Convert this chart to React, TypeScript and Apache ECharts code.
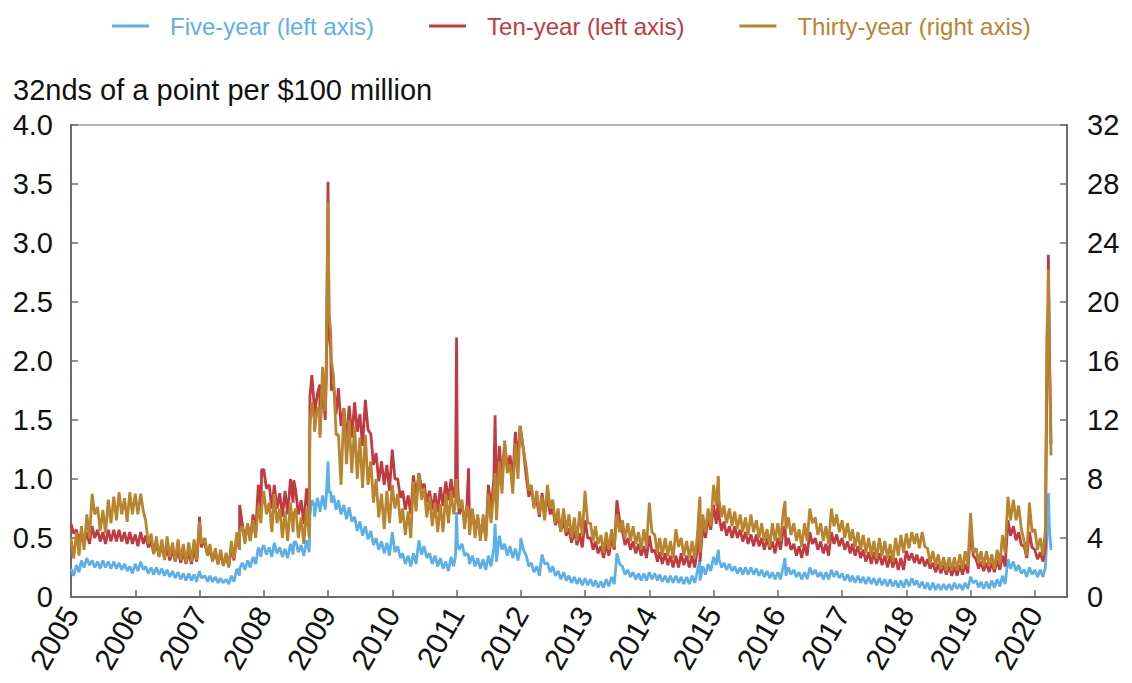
import React, { useEffect, useRef } from "react";
import * as echarts from "echarts";

// Readings per month, Jan 2005 – Mar 2020: upper edge of each series' band
// (taken at the 1st of the month) and lower edge (taken at the 16th).
const startYear = 2005;

// Five-year, left axis
const fiveHi = [
  0.24, 0.27, 0.31, 0.33, 0.31, 0.30, 0.31, 0.30, 0.30, 0.29, 0.28, 0.26,
  0.28, 0.30, 0.26, 0.25, 0.25, 0.24, 0.23, 0.22, 0.21, 0.20, 0.20, 0.19,
  0.22, 0.18, 0.18, 0.17, 0.16, 0.15, 0.18, 0.24, 0.29, 0.31, 0.34, 0.42,
  0.44, 0.42, 0.46, 0.42, 0.41, 0.45, 0.47, 0.44, 0.48, 0.82, 0.84, 0.86,
  1.15, 0.86, 0.82, 0.78, 0.76, 0.68, 0.64, 0.60, 0.56, 0.50, 0.47, 0.46,
  0.55, 0.43, 0.37, 0.35, 0.37, 0.48, 0.43, 0.37, 0.35, 0.33, 0.30, 0.34,
  0.72, 0.45, 0.37, 0.35, 0.33, 0.32, 0.35, 0.42, 0.52, 0.45, 0.43, 0.41,
  0.50, 0.35, 0.29, 0.26, 0.36, 0.29, 0.26, 0.22, 0.21, 0.18, 0.17, 0.16,
  0.16, 0.15, 0.14, 0.13, 0.15, 0.17, 0.37, 0.26, 0.23, 0.21, 0.20, 0.20,
  0.21, 0.20, 0.19, 0.18, 0.18, 0.18, 0.17, 0.17, 0.18, 0.22, 0.26, 0.28,
  0.34, 0.32, 0.29, 0.28, 0.26, 0.25, 0.25, 0.25, 0.24, 0.23, 0.22, 0.21,
  0.21, 0.26, 0.25, 0.23, 0.21, 0.21, 0.25, 0.23, 0.21, 0.21, 0.23, 0.22,
  0.20, 0.19, 0.18, 0.18, 0.17, 0.17, 0.16, 0.16, 0.15, 0.15, 0.14, 0.14,
  0.15, 0.16, 0.14, 0.13, 0.12, 0.12, 0.11, 0.11, 0.11, 0.12, 0.11, 0.12,
  0.17, 0.14, 0.13, 0.13, 0.14, 0.15, 0.18, 0.32, 0.30, 0.27, 0.23, 0.25,
  0.23, 0.23, 0.25,
];
const fiveLo = [
  0.18, 0.21, 0.25, 0.27, 0.25, 0.24, 0.25, 0.24, 0.24, 0.23, 0.22, 0.20,
  0.22, 0.23, 0.20, 0.19, 0.19, 0.18, 0.17, 0.16, 0.15, 0.14, 0.14, 0.13,
  0.16, 0.13, 0.13, 0.12, 0.12, 0.11, 0.13, 0.18, 0.23, 0.25, 0.28, 0.34,
  0.36, 0.34, 0.37, 0.34, 0.33, 0.36, 0.38, 0.35, 0.38, 0.68, 0.72, 0.74,
  0.90, 0.74, 0.70, 0.66, 0.64, 0.56, 0.52, 0.49, 0.44, 0.40, 0.37, 0.35,
  0.38, 0.33, 0.28, 0.26, 0.28, 0.36, 0.33, 0.28, 0.26, 0.24, 0.22, 0.26,
  0.40, 0.35, 0.28, 0.26, 0.24, 0.23, 0.26, 0.30, 0.40, 0.35, 0.33, 0.31,
  0.40, 0.26, 0.21, 0.18, 0.28, 0.21, 0.18, 0.15, 0.14, 0.12, 0.11, 0.10,
  0.10, 0.09, 0.08, 0.08, 0.09, 0.11, 0.28, 0.19, 0.17, 0.15, 0.14, 0.14,
  0.15, 0.14, 0.13, 0.12, 0.12, 0.12, 0.11, 0.11, 0.12, 0.14, 0.19, 0.22,
  0.27, 0.25, 0.23, 0.22, 0.20, 0.19, 0.19, 0.19, 0.18, 0.17, 0.16, 0.15,
  0.15, 0.18, 0.19, 0.17, 0.15, 0.15, 0.19, 0.17, 0.15, 0.15, 0.17, 0.16,
  0.14, 0.13, 0.12, 0.12, 0.11, 0.11, 0.10, 0.10, 0.09, 0.09, 0.08, 0.08,
  0.09, 0.10, 0.08, 0.07, 0.06, 0.06, 0.06, 0.06, 0.06, 0.07, 0.06, 0.07,
  0.12, 0.08, 0.07, 0.07, 0.08, 0.09, 0.11, 0.24, 0.22, 0.20, 0.17, 0.19,
  0.17, 0.17, 0.70,
];

// Ten-year, left axis
const tenHi = [
  0.62, 0.57, 0.55, 0.55, 0.60, 0.57, 0.55, 0.57, 0.57, 0.57, 0.55, 0.55,
  0.53, 0.55, 0.52, 0.47, 0.45, 0.43, 0.41, 0.40, 0.39, 0.38, 0.38, 0.40,
  0.68, 0.45, 0.41, 0.38, 0.37, 0.35, 0.41, 0.52, 0.62, 0.62, 0.70, 0.95,
  1.08, 0.95, 0.95, 0.88, 0.90, 1.00, 0.90, 0.82, 0.92, 1.88, 1.72, 1.82,
  3.52, 1.80, 1.77, 1.60, 1.62, 1.65, 1.55, 1.67, 1.38, 1.22, 1.15, 1.12,
  1.25, 1.00, 0.90, 0.86, 1.03, 1.05, 0.96, 0.90, 0.88, 0.93, 0.98, 1.00,
  2.20, 0.78, 0.78, 0.73, 0.68, 0.66, 0.95, 1.00, 1.28, 1.30, 1.20, 1.40,
  1.45, 1.02, 0.93, 0.82, 0.88, 0.85, 0.75, 0.68, 0.64, 0.58, 0.56, 0.54,
  0.65, 0.50, 0.47, 0.43, 0.45, 0.50, 0.82, 0.56, 0.50, 0.47, 0.45, 0.43,
  0.52, 0.40, 0.38, 0.37, 0.35, 0.35, 0.37, 0.35, 0.35, 0.40, 0.60, 0.67,
  0.78, 0.68, 0.64, 0.60, 0.60, 0.57, 0.55, 0.53, 0.53, 0.50, 0.50, 0.47,
  0.50, 0.57, 0.50, 0.45, 0.43, 0.45, 0.55, 0.50, 0.47, 0.45, 0.55, 0.53,
  0.50, 0.47, 0.45, 0.43, 0.40, 0.38, 0.38, 0.37, 0.35, 0.35, 0.33, 0.33,
  0.39, 0.37, 0.36, 0.34, 0.32, 0.29, 0.28, 0.27, 0.26, 0.26, 0.27, 0.28,
  0.58, 0.32, 0.30, 0.29, 0.29, 0.31, 0.35, 0.65, 0.60, 0.55, 0.43, 0.55,
  0.40, 0.38, 0.42,
];
const tenLo = [
  0.54, 0.47, 0.45, 0.45, 0.50, 0.47, 0.45, 0.47, 0.47, 0.47, 0.45, 0.45,
  0.43, 0.45, 0.42, 0.37, 0.35, 0.33, 0.31, 0.30, 0.29, 0.28, 0.28, 0.30,
  0.45, 0.35, 0.31, 0.28, 0.27, 0.26, 0.31, 0.40, 0.48, 0.48, 0.55, 0.75,
  0.92, 0.75, 0.75, 0.68, 0.70, 0.80, 0.70, 0.62, 0.70, 1.55, 1.38, 1.50,
  2.10, 1.55, 1.45, 1.30, 1.35, 1.40, 1.28, 1.42, 1.12, 0.98, 0.95, 0.90,
  1.00, 0.84, 0.74, 0.70, 0.85, 0.92, 0.80, 0.74, 0.72, 0.77, 0.82, 0.84,
  0.70, 0.62, 0.60, 0.57, 0.52, 0.50, 0.75, 0.80, 1.00, 1.10, 1.00, 1.15,
  1.25, 0.85, 0.77, 0.68, 0.72, 0.70, 0.61, 0.56, 0.52, 0.46, 0.44, 0.42,
  0.50, 0.40, 0.37, 0.33, 0.35, 0.40, 0.65, 0.44, 0.40, 0.37, 0.35, 0.33,
  0.38, 0.30, 0.28, 0.27, 0.25, 0.25, 0.27, 0.25, 0.25, 0.30, 0.50, 0.57,
  0.62, 0.56, 0.52, 0.50, 0.50, 0.47, 0.45, 0.43, 0.43, 0.40, 0.40, 0.37,
  0.40, 0.43, 0.40, 0.35, 0.33, 0.35, 0.45, 0.40, 0.37, 0.35, 0.45, 0.43,
  0.40, 0.37, 0.35, 0.33, 0.30, 0.28, 0.28, 0.27, 0.25, 0.25, 0.23, 0.23,
  0.31, 0.29, 0.28, 0.26, 0.24, 0.21, 0.20, 0.19, 0.18, 0.18, 0.19, 0.20,
  0.35, 0.24, 0.22, 0.21, 0.21, 0.23, 0.26, 0.52, 0.48, 0.44, 0.33, 0.42,
  0.32, 0.30, 2.40,
];

// Thirty-year, right axis
const thirtyHi = [
  4.0, 4.4, 4.8, 5.6, 7.0, 6.1, 5.9, 6.6, 6.8, 7.1, 6.7, 7.1,
  7.0, 7.0, 5.2, 4.3, 4.1, 3.9, 4.1, 3.7, 3.9, 3.6, 3.7, 3.9,
  5.1, 4.0, 3.6, 3.3, 3.2, 3.0, 3.8, 4.4, 4.8, 5.0, 5.2, 6.2,
  7.2, 6.4, 7.0, 6.0, 5.8, 6.4, 6.0, 5.4, 6.0, 13.2, 12.8, 15.6,
  26.8, 15.0, 11.0, 12.8, 12.0, 11.6, 10.8, 11.0, 9.2, 8.0, 7.0, 7.2,
  7.6, 7.0, 6.0, 5.8, 7.8, 8.4, 7.4, 6.8, 6.4, 6.3, 7.0, 7.2,
  8.0, 6.6, 6.2, 6.0, 5.6, 5.6, 7.0, 7.2, 9.2, 10.6, 9.0, 10.4,
  11.6, 8.8, 7.6, 7.2, 6.8, 7.6, 6.6, 6.0, 6.0, 5.6, 5.4, 5.8,
  7.2, 5.0, 4.8, 4.2, 4.4, 4.6, 5.6, 5.2, 5.0, 4.8, 4.4, 4.6,
  6.4, 4.2, 4.0, 4.0, 3.8, 4.6, 4.0, 3.8, 3.8, 4.2, 5.6, 6.0,
  7.6, 6.6, 6.2, 6.0, 5.8, 5.6, 5.4, 5.6, 5.2, 5.0, 4.6, 5.0,
  5.0, 5.8, 5.4, 5.0, 4.6, 5.0, 6.0, 5.4, 5.0, 4.8, 6.0, 5.6,
  5.2, 5.0, 4.6, 4.4, 4.2, 4.0, 3.8, 4.0, 3.8, 3.6, 4.0, 4.2,
  4.3, 4.4, 4.3, 4.4, 3.3, 3.1, 2.9, 2.7, 2.7, 2.7, 2.9, 3.1,
  5.7, 3.3, 3.1, 3.1, 2.9, 3.2, 4.2, 6.8, 6.6, 6.2, 3.8, 6.4,
  4.6, 4.0, 4.6,
];
const thirtyLo = [
  2.6, 2.8, 3.2, 4.0, 5.6, 4.5, 4.3, 5.0, 5.2, 5.6, 5.1, 5.6,
  5.6, 5.8, 3.6, 2.9, 2.7, 2.5, 2.7, 2.4, 2.5, 2.3, 2.4, 2.5,
  3.6, 2.8, 2.4, 2.2, 2.1, 2.0, 2.6, 3.2, 3.6, 3.8, 4.0, 5.0,
  5.6, 4.4, 5.0, 4.0, 3.8, 4.4, 4.0, 3.6, 4.0, 11.2, 10.8, 12.6,
  18.0, 11.0, 7.6, 9.0, 8.4, 8.0, 7.4, 7.6, 6.4, 5.4, 4.6, 5.0,
  6.0, 5.0, 4.2, 4.0, 5.8, 6.6, 5.4, 4.8, 4.4, 4.4, 5.0, 5.6,
  6.0, 4.6, 4.2, 4.0, 3.8, 3.8, 5.0, 5.2, 7.0, 8.4, 7.0, 8.0,
  10.0, 7.2, 6.0, 5.6, 5.2, 6.0, 5.0, 4.4, 4.4, 4.0, 3.8, 4.2,
  5.0, 3.8, 3.6, 3.0, 3.2, 3.4, 4.4, 4.0, 3.8, 3.6, 3.2, 3.4,
  4.4, 3.0, 2.8, 2.8, 2.6, 3.4, 2.8, 2.6, 2.6, 3.0, 4.4, 4.8,
  6.2, 5.4, 5.0, 4.8, 4.6, 4.4, 4.2, 4.4, 4.0, 3.8, 3.4, 3.8,
  3.8, 4.6, 4.2, 3.8, 3.4, 3.8, 5.0, 4.2, 3.8, 3.6, 4.8, 4.4,
  4.0, 3.8, 3.4, 3.2, 3.0, 2.8, 2.6, 2.8, 2.6, 2.4, 2.8, 3.0,
  3.3, 3.6, 3.3, 3.4, 2.3, 2.1, 1.9, 1.8, 1.8, 1.8, 1.9, 2.1,
  3.0, 2.3, 2.1, 2.1, 1.9, 2.2, 3.0, 5.2, 5.2, 4.6, 2.8, 4.4,
  3.2, 2.8, 20.0,
];

// Extra readings around short-lived spikes
const extraDates = [
  "2006-12-20", "2007-01-12", "2007-08-17", "2007-12-20", "2008-06-20",
  "2008-09-20", "2008-10-15", "2008-11-15", "2008-12-22", "2009-01-07",
  "2009-01-20", "2010-12-26", "2011-01-06", "2011-03-10", "2011-08-08",
  "2011-12-28", "2014-10-15", "2015-01-28", "2016-02-11", "2020-03-09",
  "2020-03-18", "2020-03-25", "2020-04-02",
];
const fiveExtra = [
  0.16, 0.16, 0.24, 0.40, 0.46, 0.70, 0.78, 0.75, 0.85, 0.88, 0.80, 0.35,
  0.45, 0.35, 0.62, 0.40, 0.31, 0.40, 0.33, 0.50, 0.88, 0.55, 0.40,
];
const tenExtra = [
  0.36, 0.42, 0.78, 1.08, 0.99, 1.70, 1.60, 1.80, 1.85, 2.20, 1.75, 0.95,
  1.00, 1.09, 1.54, 1.45, 0.82, 0.81, 0.60, 1.80, 2.90, 2.00, 1.30,
];
const thirtyExtra = [
  3.2, 3.6, 4.4, 6.0, 5.6, 11.6, 12.0, 12.8, 16.0, 19.2, 16.0, 6.4,
  6.8, 5.8, 8.4, 11.6, 6.8, 8.2, 6.5, 17.6, 22.2, 15.2, 9.6,
];

const yearTicks = [2005, 2006, 2007, 2008, 2009, 2010, 2011, 2012, 2013, 2014, 2015, 2016, 2017, 2018, 2019, 2020];

const BLUE = "#5cb0ea";
const RED = "#c13a40";
const GOLD = "#b8852e";
const FONT = "'Liberation Sans', Arial, sans-serif";

function yearFrac(y: number, m: number, d: number): number {
  const s = Date.UTC(y, 0, 1);
  const e = Date.UTC(y + 1, 0, 1);
  return y + (Date.UTC(y, m - 1, d) - s) / (e - s);
}

function build(hi: number[], lo: number[], extra: number[]): number[][] {
  const pts: number[][] = [];
  hi.forEach((v, i) => {
    const y = startYear + Math.floor(i / 12);
    const m = (i % 12) + 1;
    pts.push([yearFrac(y, m, 1), v]);
    pts.push([yearFrac(y, m, 16), lo[i]]);
  });
  extraDates.forEach((ds, i) => {
    const [y, m, d] = ds.split("-").map(Number);
    pts.push([yearFrac(y, m, d), extra[i]]);
  });
  pts.sort((a, b) => a[0] - b[0]);
  return pts;
}

export default function App() {
  const ref = useRef<HTMLDivElement>(null);
  useEffect(() => {
    if (!ref.current) return;
    const chart = echarts.init(ref.current, undefined, { renderer: "svg" });
    const axisLine = { show: true, lineStyle: { color: "#6b6b6b", width: 2 } };
    const axisTick = { show: true, inside: true, length: 7, lineStyle: { color: "#6b6b6b", width: 1.5 } };
    const mkSeries = (name: string, color: string, yAxisIndex: number, data: number[][]) => ({
      name,
      type: "line",
      yAxisIndex,
      data,
      showSymbol: false,
      color,
      lineStyle: { color, width: 2.8 },
    });
    chart.setOption({
      animation: false,
      textStyle: { fontFamily: FONT },
      title: {
        text: "32nds of a point per $100 million",
        left: 8,
        top: 70,
        textStyle: { fontSize: 29, fontWeight: "normal", color: "#111", fontFamily: FONT },
      },
      legend: {
        left: 107,
        top: 9,
        itemWidth: 37,
        itemHeight: 3,
        itemGap: 55,
        icon: "rect",
        textStyle: { fontSize: 24, fontFamily: FONT, padding: [0, 0, 0, 16] },
        data: [
          { name: "Five-year (left axis)", textStyle: { color: BLUE } },
          { name: "Ten-year (left axis)", textStyle: { color: RED } },
          { name: "Thirty-year (right axis)", textStyle: { color: GOLD } },
        ],
      },
      grid: {
        left: 71,
        right: 65,
        top: 125,
        bottom: 86,
        show: true,
        borderColor: "#9a9a9a",
        borderWidth: 1.5,
      },
      xAxis: {
        type: "value",
        min: 2005,
        max: 2020.5,
        interval: 1,
        axisLine,
        axisTick,
        splitLine: { show: false },
        axisLabel: {
          rotate: 60,
          fontSize: 30,
          color: "#111",
          margin: 12,
          formatter: (v: number) => (yearTicks.includes(v) ? String(v) : ""),
        },
      },
      yAxis: [
        {
          type: "value",
          position: "left",
          min: 0,
          max: 4,
          interval: 0.5,
          axisLine,
          axisTick,
          splitLine: { show: false },
          axisLabel: {
            fontSize: 29,
            color: "#111",
            margin: 18,
            formatter: (v: number) => (v === 0 ? "0" : v.toFixed(1)),
          },
        },
        {
          type: "value",
          position: "right",
          min: 0,
          max: 32,
          interval: 4,
          axisLine,
          axisTick,
          splitLine: { show: false },
          axisLabel: { fontSize: 29, color: "#111", margin: 20 },
        },
      ],
      series: [
        mkSeries("Five-year (left axis)", BLUE, 0, build(fiveHi, fiveLo, fiveExtra)),
        mkSeries("Ten-year (left axis)", RED, 0, build(tenHi, tenLo, tenExtra)),
        mkSeries("Thirty-year (right axis)", GOLD, 1, build(thirtyHi, thirtyLo, thirtyExtra)),
      ],
    });
    return () => chart.dispose();
  }, []);
  return (
    <div
      ref={ref}
      style={{ position: "fixed", left: 0, top: 0, width: 1132, height: 683, background: "#fff" }}
    />
  );
}
